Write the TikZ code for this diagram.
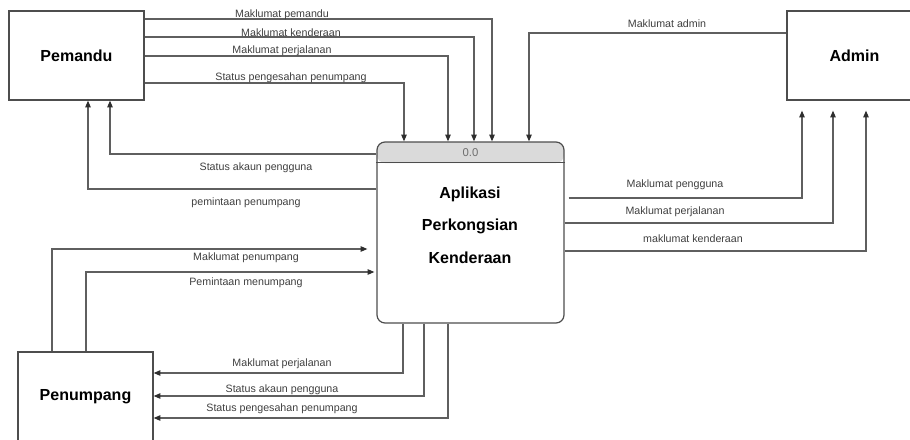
\documentclass[tikz,border=0pt]{standalone}
\usepackage{fontspec}
\setmainfont{Liberation Sans}
\usetikzlibrary{arrows.meta}
\definecolor{boxgrey}{HTML}{4D4D4D}
\definecolor{linegrey}{HTML}{5F5F5F}
\definecolor{tipgrey}{HTML}{2E2E2E}
\definecolor{labelgrey}{HTML}{3F3F3F}
\definecolor{headgrey}{HTML}{DADADA}
\definecolor{numgrey}{HTML}{6E6E6E}
\begin{document}
\begin{tikzpicture}[x=0.75pt,y=-0.75pt,
            entity/.style={draw=boxgrey,line width=0.9pt,minimum width=101.25pt,minimum height=66.75pt,
                font=\fontsize{12}{14}\selectfont\bfseries},
            flow/.style={draw=linegrey,line width=0.9pt,-{Triangle[length=5pt,width=4pt,color=tipgrey]}},
            lbl/.style={text=labelgrey,font=\fontsize{8}{9.6}\selectfont,inner sep=0pt}]
            \useasboundingbox (0,0) rectangle (910,439);

            \node[entity] (pemandu) at (76.5,55.5) {Pemandu};
            \node[entity] (admin) at (854.5,55.5) {Admin};
            \node[entity] (penumpang) at (85.5,396.5) {Penumpang};
            \node[draw=boxgrey,line width=0.9pt,rounded corners=6pt,minimum width=140.25pt,minimum height=135.75pt,
                path picture={\fill[headgrey] (path picture bounding box.north west) rectangle ([yshift=-15.75pt]path picture bounding box.north east);}]
                (proc) at (470.5,232.5) {};
            \draw[boxgrey,line width=0.9pt] ([yshift=-15.75pt]proc.north west) -- ([yshift=-15.75pt]proc.north east);
            \node[text=numgrey,font=\fontsize{8.5}{10}\selectfont] (procno) at (470.5,152.5) {0.0};
            \node[align=center,font=\fontsize{12}{24.4}\selectfont\bfseries] (procname) at (470,225) {Aplikasi\\Perkongsian\\Kenderaan};

            \draw[flow] (pemandu.east |- 0,19) -| (proc.north -| 492,0);
            \draw[flow] (pemandu.east |- 0,37) -| (proc.north -| 474,0);
            \draw[flow] (pemandu.east |- 0,56) -| (proc.north -| 448,0);
            \draw[flow] (pemandu.east |- 0,83) -| (proc.north -| 404,0);
            \draw[flow] (proc.west |- 0,154) -| (pemandu.south -| 110,0);
            \draw[flow] (proc.west |- 0,189) -| (pemandu.south -| 88,0);

            \draw[flow] (admin.west |- 0,33) -| (proc.north -| 529,0);
            \draw[flow,shorten <=3pt,shorten >=7.5pt] (proc.east |- 0,198) -| (admin.south -| 802,0);
            \draw[flow,shorten >=7.5pt] (proc.east |- 0,223) -| (admin.south -| 833,0);
            \draw[flow,shorten >=7.5pt] (proc.east |- 0,251) -| (admin.south -| 866,0);

            \draw[flow,shorten >=6.75pt] (penumpang.north -| 52,0) |- (proc.west |- 0,249);
            \draw[flow,shorten >=1.5pt] (penumpang.north -| 86,0) |- (proc.west |- 0,272);
            \draw[flow] (proc.south -| 403,0) |- (penumpang.east |- 0,373);
            \draw[flow] (proc.south -| 424,0) |- (penumpang.east |- 0,396);
            \draw[flow] (proc.south -| 448,0) |- (penumpang.east |- 0,418);

            \node[lbl] (lpemandu) at (282,15) {Maklumat pemandu};
            \node[lbl] (lkenderaan) at (291,33) {Maklumat kenderaan};
            \node[lbl] (lperjalanan) at (282,51) {Maklumat perjalanan};
            \node[lbl] (lpengesahan) at (291,78) {Status pengesahan penumpang};
            \node[lbl] (lakaun) at (256,168) {Status akaun pengguna};
            \node[lbl] (lpemintaan) at (246,203) {pemintaan penumpang};
            \node[lbl] (ladmin) at (667,24) {Maklumat admin};
            \node[lbl] (lpengguna) at (675,185) {Maklumat pengguna};
            \node[lbl] (lperjalanantwo) at (675,212) {Maklumat perjalanan};
            \node[lbl] (lkenderaantwo) at (693,239) {maklumat kenderaan};
            \node[lbl] (lpenumpang) at (246,258) {Maklumat penumpang};
            \node[lbl] (lmenumpang) at (246,283) {Pemintaan menumpang};
            \node[lbl] (lperjalananthree) at (282,364) {Maklumat perjalanan};
            \node[lbl] (lakauntwo) at (282,390) {Status akaun pengguna};
            \node[lbl] (lpengesahantwo) at (282,409) {Status pengesahan penumpang};
        \end{tikzpicture}
\end{document}
